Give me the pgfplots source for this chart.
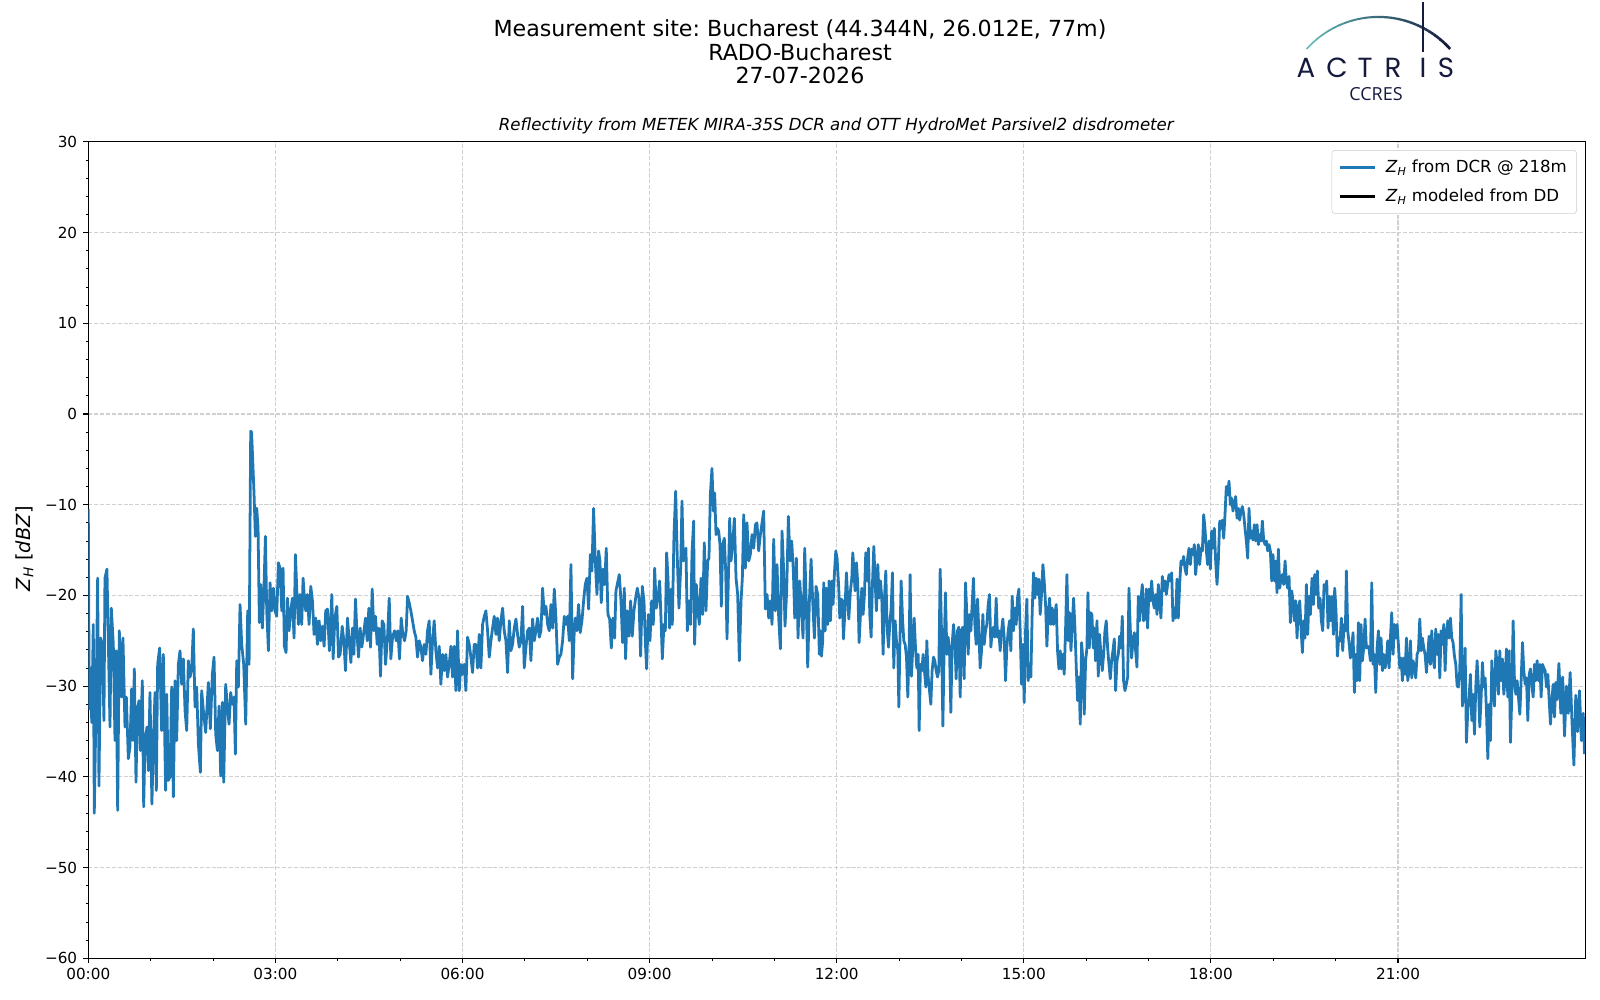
\documentclass[border=0pt]{standalone}
\usepackage{fontspec}
\setmainfont{DejaVu Sans}
\newfontfamily\logofont{Poppins}
\newfontfamily\ccresfont{Open Sans}
\usepackage{pgfplots}
\pgfplotsset{compat=1.18}
\frenchspacing
\definecolor{tabblue}{HTML}{1F77B4}
\definecolor{navy}{HTML}{151A3E}
\definecolor{teal2}{HTML}{62BDB8}
\definecolor{gridc}{HTML}{D0D0D0}
\definecolor{legc}{HTML}{CCCCCC}
\begin{document}
\begin{tikzpicture}[x=0.01in,y=0.01in]
\begin{axis}[
  scale only axis, width=14.96in, height=8.16in,
  xmin=0, xmax=24, ymin=-60, ymax=30,
  xtick={0,3,...,21},
  xticklabels={00:00,03:00,06:00,09:00,12:00,15:00,18:00,21:00},
  minor x tick num=2,
  ytick={-60,-50,...,30},
  yticklabels={−60,−50,−40,−30,−20,−10,0,10,20,30},
  minor y tick num=4,
  tick align=outside, xtick pos=bottom, ytick pos=left,
  major tick length=3.5pt, minor tick length=2pt,
  every major tick/.style={line width=0.8pt, black},
  every minor tick/.style={line width=0.6pt, black},
  axis line style={line width=0.8pt, black},
  tick label style={font=\fontsize{11}{13}\selectfont},
  yticklabel style={xshift=-1pt},
  xmajorgrids, ymajorgrids,
  major grid style={gridc, line width=0.8pt, dash pattern=on 2.96pt off 1.28pt},
  legend style={at={(rel axis cs:1,1)}, anchor=north east, xshift=-6pt, yshift=-6pt,
    draw=legc, rounded corners=2pt, fill=white, font=\fontsize{12}{14}\selectfont,
    inner xsep=5pt, inner ysep=5pt, row sep=6.3pt, column sep=5pt},
  legend cell align=left,
  legend image code/.code={\draw[#1] (0pt,0pt) -- (25pt,0pt);},
]
\addplot[tabblue, line width=2pt, line join=round] coordinates {
(0,-10.5) (0.015,-32.5) (0.035,-28) (0.055,-34)
(0.080,-23.2) (0.096,-44.0) (0.123,-32.7) (0.150,-18.1) (0.171,-41.0) (0.198,-24.7) (0.225,-25.4) (0.251,-33.8)
(0.267,-18.1) (0.299,-17.1) (0.321,-25.0) (0.348,-34.5) (0.369,-21.4) (0.401,-25.4) (0.428,-36.0) (0.444,-26.1)
(0.471,-43.7) (0.497,-23.9) (0.535,-31.2) (0.556,-24.7) (0.588,-34.5) (0.610,-31.2) (0.642,-38.0) (0.668,-36.7)
(0.695,-30.3) (0.717,-36.0) (0.738,-28.1) (0.765,-40.6) (0.786,-32.7) (0.813,-31.6) (0.834,-37.1) (0.866,-29.4)
(0.888,-43.3) (0.909,-36.2) (0.941,-34.5) (0.963,-39.3) (0.989,-30.7) (1.020,-43.0) (1.043,-36.4) (1.070,-30.7)
(1.091,-41.5) (1.112,-27.6) (1.144,-25.8) (1.176,-34.9) (1.203,-26.5) (1.240,-41.5) (1.257,-30.9) (1.283,-40.4)
(1.310,-40.0) (1.337,-30.1) (1.364,-42.2) (1.390,-29.4) (1.417,-36.0) (1.444,-27.6) (1.471,-26.1) (1.497,-29.8)
(1.524,-27.0) (1.551,-32.7) (1.578,-34.9) (1.604,-27.2) (1.631,-29.0) (1.658,-28.1) (1.684,-23.7) (1.711,-32.3)
(1.738,-30.1) (1.765,-36.4) (1.797,-39.5) (1.818,-30.5) (1.845,-32.7) (1.882,-35.1) (1.925,-29.6) (1.957,-34.7)
(1.989,-28.7) (2.016,-26.8) (2.043,-35.3) (2.070,-37.1) (2.096,-32.2) (2.123,-39.9) (2.150,-31.8) (2.171,-40.6)
(2.203,-29.8) (2.235,-32.7) (2.257,-34.2) (2.283,-30.7) (2.310,-32.0) (2.337,-31.2) (2.358,-37.5) (2.380,-27.2)
(2.406,-30.1) (2.433,-21.0) (2.460,-25.4) (2.492,-27.6) (2.524,-34.2) (2.556,-21.7) (2.578,-27.6) (2.604,-1.9)
(2.618,-2.0) (2.636,-5.0) (2.658,-8.9) (2.679,-13.5) (2.701,-10.4) (2.722,-12.6) (2.743,-23.0) (2.765,-18.8)
(2.791,-23.6) (2.818,-18.8) (2.840,-13.5) (2.861,-21.7) (2.888,-26.1) (2.914,-18.6) (2.941,-21.7) (2.968,-19.2)
(2.995,-21.7) (3.021,-22.3) (3.048,-16.4) (3.075,-17.0) (3.102,-21.7) (3.123,-17.0) (3.144,-25.6) (3.171,-26.3)
(3.193,-20.3) (3.219,-23.9) (3.246,-21.7) (3.273,-20.3) (3.299,-24.7) (3.321,-15.5) (3.348,-20.3) (3.369,-23.2)
(3.396,-19.9) (3.422,-23.2) (3.444,-18.1) (3.465,-20.3) (3.487,-21.7) (3.513,-19.9) (3.540,-23.2) (3.567,-19.0)
(3.594,-20.6) (3.620,-24.3) (3.647,-22.5) (3.674,-25.4) (3.701,-22.8) (3.727,-25.0) (3.754,-23.4) (3.781,-25.6)
(3.807,-21.7) (3.834,-21.5) (3.866,-26.1)
(3.905,-19.9) (3.926,-27.0) (3.953,-22.5) (3.985,-21.2) (4.012,-26.8) (4.038,-26.5) (4.071,-23.4) (4.097,-25.0)
(4.124,-28.3) (4.156,-22.5) (4.183,-25.0) (4.210,-27.4) (4.236,-23.6) (4.258,-26.5) (4.284,-20.4) (4.306,-23.9)
(4.333,-26.8) (4.359,-23.6) (4.386,-25.7) (4.413,-24.3) (4.445,-22.5) (4.472,-25.0) (4.498,-21.4) (4.525,-25.7)
(4.552,-19.3) (4.579,-23.9) (4.605,-22.3) (4.632,-25.4) (4.659,-23.6) (4.685,-28.9) (4.712,-22.8) (4.739,-23.2)
(4.766,-27.6) (4.798,-24.6) (4.825,-20.3) (4.851,-27.0) (4.878,-24.6) (4.910,-23.9) (4.937,-25.0) (4.964,-23.9)
(4.990,-27.0) (5.017,-22.5) (5.044,-24.3) (5.071,-25.0) (5.097,-23.9) (5.119,-20.1) (5.145,-20.8) (5.172,-21.7)
(5.199,-22.8) (5.226,-23.9) (5.252,-24.6) (5.279,-26.8) (5.306,-25.0) (5.333,-25.7) (5.359,-27.2) (5.386,-25.4)
(5.413,-26.5) (5.439,-23.9) (5.466,-22.8) (5.493,-28.7) (5.520,-25.0) (5.546,-22.8) (5.573,-26.1) (5.600,-28.0)
(5.627,-25.6) (5.653,-29.8) (5.680,-26.5) (5.707,-28.3) (5.734,-26.5) (5.760,-29.0) (5.787,-27.6) (5.814,-25.6)
(5.841,-29.0) (5.867,-25.6) (5.894,-30.5) (5.921,-23.9) (5.948,-30.5) (5.974,-27.6) (6.001,-28.7) (6.028,-27.6)
(6.054,-30.5) (6.081,-24.6) (6.108,-25.4) (6.135,-26.8) (6.161,-28.5) (6.188,-25.4) (6.215,-25.4) (6.242,-28.0)
(6.268,-24.3) (6.295,-28.0) (6.322,-23.2) (6.349,-22.3) (6.375,-21.7) (6.402,-23.9) (6.429,-26.8) (6.456,-25.0)
(6.482,-23.6) (6.509,-22.3) (6.536,-24.3) (6.562,-22.5) (6.589,-25.0) (6.616,-22.8) (6.643,-21.4) (6.669,-23.9)
(6.696,-25.0) (6.723,-28.5) (6.750,-22.8) (6.776,-26.1) (6.803,-25.4) (6.830,-23.6) (6.857,-22.6) (6.883,-24.3)
(6.910,-25.7) (6.937,-25.0) (6.964,-21.2) (6.990,-28.0) (7.017,-25.7) (7.044,-23.9) (7.071,-23.6) (7.097,-27.2)
(7.124,-22.6) (7.151,-25.0) (7.177,-23.9) (7.204,-22.5) (7.231,-24.6) (7.258,-23.9) (7.284,-19.2) (7.311,-22.1)
(7.338,-21.2) (7.365,-23.2) (7.391,-23.9) (7.418,-21.0) (7.445,-23.6) (7.472,-19.3) (7.498,-22.5) (7.525,-27.6)
(7.552,-26.8) (7.578,-26.5) (7.605,-25.0) (7.632,-22.3) (7.659,-23.2) (7.685,-22.3) (7.712,-25.0) (7.739,-16.6)
(7.766,-29.2) (7.792,-23.9)
(7.808,-22.5) (7.835,-23.9) (7.861,-21.0) (7.888,-24.1) (7.915,-22.8) (7.942,-20.6) (7.968,-18.8) (7.995,-18.1)
(8.022,-21.5) (8.049,-15.5) (8.075,-17.3) (8.102,-10.4) (8.129,-16.2) (8.156,-19.9) (8.182,-15.1) (8.204,-16.2)
(8.225,-20.8) (8.252,-17.1) (8.279,-18.8) (8.305,-14.8) (8.332,-22.1) (8.359,-22.6) (8.386,-25.8) (8.412,-22.5)
(8.439,-24.7) (8.460,-19.5) (8.487,-18.6) (8.514,-17.7) (8.541,-20.6) (8.567,-25.2) (8.594,-19.2) (8.615,-27.0)
(8.642,-21.7) (8.669,-24.5) (8.696,-20.6) (8.722,-24.5) (8.749,-21.7) (8.776,-20.3) (8.803,-19.2) (8.829,-20.3)
(8.856,-26.7) (8.883,-19.0) (8.910,-20.6) (8.931,-25.0) (8.952,-28.1) (8.979,-22.1) (9.006,-25.0) (9.033,-20.6)
(9.059,-23.2) (9.081,-17.0) (9.107,-21.4) (9.134,-20.3) (9.161,-18.4) (9.188,-23.6) (9.204,-27.0) (9.230,-23.2)
(9.252,-23.9) (9.273,-15.3) (9.295,-18.1) (9.321,-23.6) (9.348,-19.3) (9.364,-23.2) (9.391,-13.3) (9.418,-8.5)
(9.444,-15.9) (9.471,-21.4) (9.498,-17.0) (9.519,-9.6) (9.541,-16.2) (9.562,-15.1) (9.583,-14.8) (9.605,-23.9)
(9.631,-20.6) (9.658,-23.2) (9.680,-15.3) (9.706,-11.8) (9.722,-25.4) (9.749,-18.8) (9.776,-21.7) (9.797,-23.2)
(9.824,-18.1) (9.851,-22.1) (9.877,-14.2) (9.904,-21.7) (9.931,-16.2) (9.952,-15.9) (9.974,-8.9) (10.000,-6.0)
(10.022,-10.7) (10.043,-8.7) (10.065,-13.3) (10.086,-12.6) (10.107,-12.9) (10.129,-14.4) (10.150,-21.2) (10.172,-14.4)
(10.198,-13.7) (10.220,-17.3) (10.241,-24.8) (10.263,-18.1) (10.284,-11.5) (10.305,-16.2) (10.332,-14.4) (10.359,-11.5)
(10.386,-18.1) (10.412,-19.9) (10.439,-27.2) (10.466,-20.6) (10.487,-18.1) (10.509,-11.1) (10.535,-17.0) (10.562,-12.0)
(10.589,-16.2) (10.615,-15.5) (10.642,-13.3) (10.669,-14.8) (10.696,-12.2) (10.722,-12.0) (10.749,-15.1) (10.776,-13.3)
(10.803,-12.0) (10.829,-10.7) (10.856,-21.5) (10.883,-19.9) (10.910,-22.5) (10.936,-20.6) (10.963,-23.2) (10.990,-13.8)
(11.016,-21.7) (11.043,-16.6) (11.070,-22.5) (11.097,-25.9) (11.123,-12.9) (11.150,-17.3) (11.171,-23.4) (11.198,-19.5)
(11.225,-11.3) (11.252,-16.2) (11.278,-14.0) (11.305,-17.3) (11.327,-22.5) (11.353,-15.9) (11.380,-24.7) (11.407,-18.4)
(11.434,-21.4) (11.460,-24.7) (11.487,-14.8) (11.514,-21.4) (11.535,-27.9) (11.562,-20.6) (11.589,-16.0) (11.615,-20.6)
(11.642,-24.7) (11.669,-19.0) (11.696,-19.9) (11.722,-26.5)
(11.739,-23.9) (11.755,-26.7) (11.776,-25.0) (11.792,-18.6) (11.814,-23.9) (11.835,-19.2) (11.857,-23.2) (11.878,-18.4)
(11.899,-22.8) (11.926,-18.4) (11.942,-21.0) (11.964,-17.5) (11.985,-15.1) (12.006,-15.9) (12.033,-19.2) (12.049,-22.5)
(12.071,-20.4) (12.092,-20.6) (12.108,-24.8) (12.129,-22.1) (12.156,-17.5) (12.177,-20.3) (12.194,-22.6) (12.220,-19.5)
(12.242,-18.1) (12.258,-15.3) (12.279,-17.7) (12.295,-19.5) (12.317,-16.4) (12.338,-18.8) (12.359,-25.2) (12.381,-22.1)
(12.402,-19.2) (12.423,-22.1) (12.445,-19.9) (12.466,-15.3) (12.488,-18.4) (12.509,-14.8) (12.530,-22.1) (12.552,-24.6)
(12.573,-18.8) (12.595,-14.6) (12.616,-18.4) (12.637,-21.7) (12.659,-16.6) (12.680,-20.3) (12.702,-18.4) (12.723,-20.3)
(12.744,-26.5) (12.766,-20.3) (12.787,-17.3) (12.809,-23.6) (12.830,-25.7) (12.851,-23.2) (12.873,-21.4) (12.894,-17.5)
(12.915,-28.0) (12.937,-22.8) (12.958,-25.0) (12.980,-26.1) (12.996,-32.3) (13.012,-25.7) (13.033,-18.4) (13.055,-22.5)
(13.076,-25.0) (13.097,-25.4) (13.119,-26.8) (13.140,-31.2) (13.161,-25.7) (13.177,-17.7) (13.199,-28.9) (13.220,-25.7)
(13.242,-22.5) (13.263,-25.7) (13.284,-28.0) (13.306,-26.5) (13.322,-34.9) (13.343,-27.6) (13.365,-28.3) (13.386,-26.5)
(13.407,-28.3) (13.429,-30.1) (13.445,-25.0) (13.466,-29.0) (13.488,-30.5) (13.509,-32.0) (13.530,-28.3) (13.552,-26.8)
(13.573,-27.2) (13.595,-28.3) (13.616,-29.0) (13.637,-28.3) (13.659,-17.1) (13.680,-23.9) (13.702,-34.4) (13.723,-25.7)
(13.744,-19.7) (13.766,-26.5) (13.787,-24.6) (13.809,-26.1) (13.830,-32.9) (13.851,-25.4) (13.873,-23.2) (13.894,-25.0)
(13.915,-29.2) (13.937,-23.9) (13.958,-23.5) (13.980,-31.2) (14.001,-23.9) (14.022,-23.5) (14.044,-29.2) (14.065,-18.6)
(14.087,-22.1) (14.108,-26.5) (14.129,-22.1) (14.151,-23.9) (14.172,-21.0) (14.193,-18.1) (14.215,-23.2) (14.236,-25.4)
(14.258,-20.4) (14.279,-23.9) (14.300,-28.0) (14.322,-26.1) (14.343,-22.1) (14.365,-25.4) (14.386,-23.9) (14.407,-23.2)
(14.429,-21.0) (14.450,-19.9) (14.472,-25.7) (14.493,-23.9) (14.514,-23.5) (14.536,-24.6) (14.557,-20.3) (14.578,-24.6)
(14.600,-23.9) (14.621,-26.1) (14.643,-23.9) (14.664,-22.6) (14.685,-24.6) (14.707,-29.4) (14.728,-25.7) (14.750,-23.9)
(14.771,-22.8) (14.792,-26.1) (14.814,-20.1) (14.835,-23.9) (14.856,-21.4) (14.878,-23.2) (14.899,-20.3) (14.921,-19.3)
(14.942,-23.9) (14.963,-29.8) (14.985,-25.4) (15.006,-31.8) (15.028,-23.9) (15.049,-20.4) (15.070,-29.4) (15.092,-27.6)
(15.113,-29.0) (15.135,-21.7) (15.156,-17.5) (15.177,-20.3) (15.199,-18.1) (15.220,-19.9) (15.242,-18.2) (15.263,-22.1)
(15.284,-19.9) (15.306,-16.6) (15.327,-18.4) (15.349,-21.0) (15.370,-25.6) (15.391,-22.1) (15.413,-20.3) (15.434,-23.2)
(15.456,-21.4) (15.477,-23.2) (15.498,-22.1) (15.520,-21.0) (15.541,-26.1) (15.563,-28.1) (15.584,-26.1) (15.605,-28.1)
(15.627,-26.5) (15.648,-28.7)
(15.670,-23.6) (15.691,-17.7) (15.713,-25.0) (15.734,-21.9) (15.756,-26.1) (15.777,-23.2) (15.798,-20.3) (15.820,-23.6)
(15.841,-27.9) (15.863,-31.6) (15.884,-29.0) (15.905,-34.2) (15.927,-25.2) (15.948,-27.2) (15.969,-33.1) (15.991,-27.2)
(16.012,-25.8) (16.028,-19.7) (16.050,-25.8) (16.071,-21.9) (16.092,-22.1) (16.114,-25.8) (16.130,-23.6) (16.151,-27.2)
(16.173,-22.8) (16.194,-28.9) (16.215,-24.3) (16.237,-26.5) (16.258,-28.3) (16.280,-26.5) (16.301,-23.9) (16.322,-22.8)
(16.344,-25.8) (16.365,-27.6) (16.387,-29.2) (16.408,-27.2) (16.429,-26.1) (16.451,-24.8) (16.472,-30.5) (16.494,-27.2)
(16.515,-26.5) (16.536,-24.5) (16.558,-25.8) (16.579,-22.3) (16.600,-29.4) (16.622,-30.5) (16.643,-29.8) (16.665,-29.0)
(16.686,-19.2) (16.707,-23.6) (16.729,-26.9) (16.750,-25.0) (16.772,-24.1) (16.793,-26.1) (16.814,-27.9) (16.836,-20.1)
(16.857,-22.8) (16.879,-20.3) (16.900,-18.8) (16.921,-22.8) (16.943,-22.5) (16.964,-19.3) (16.985,-23.6) (17.007,-19.3)
(17.028,-20.6) (17.050,-18.4) (17.071,-20.6) (17.092,-21.4) (17.114,-19.9) (17.135,-22.1) (17.157,-18.8) (17.178,-20.6)
(17.199,-22.5) (17.221,-17.9) (17.242,-19.5) (17.264,-18.4) (17.285,-19.9) (17.306,-18.8) (17.328,-17.7) (17.349,-18.4)
(17.371,-17.5) (17.392,-22.8) (17.413,-21.4) (17.435,-22.5) (17.456,-18.2) (17.477,-22.5) (17.499,-18.8) (17.520,-16.2)
(17.542,-16.6) (17.563,-15.7) (17.584,-17.0) (17.606,-17.7) (17.627,-15.9) (17.649,-14.8) (17.670,-16.6) (17.691,-14.9)
(17.713,-15.5) (17.734,-14.4) (17.755,-17.7) (17.777,-15.9) (17.798,-14.4) (17.820,-16.6) (17.841,-14.8) (17.863,-15.1)
(17.884,-11.1) (17.905,-12.6) (17.927,-15.1) (17.948,-16.6) (17.969,-14.0) (17.991,-17.1) (18.012,-12.9) (18.034,-14.8)
(18.055,-12.6) (18.076,-16.2) (18.098,-18.8) (18.119,-16.2) (18.141,-11.8) (18.162,-12.6) (18.183,-11.7) (18.205,-13.7)
(18.226,-11.1) (18.247,-8.0) (18.269,-8.9) (18.290,-7.4) (18.312,-10.0) (18.333,-9.3) (18.354,-10.7) (18.376,-9.8)
(18.397,-9.1) (18.419,-11.5) (18.440,-10.4) (18.461,-11.7) (18.483,-10.7) (18.504,-10.2) (18.526,-11.1) (18.547,-12.6)
(18.568,-14.0) (18.590,-15.9) (18.611,-10.4) (18.633,-13.7) (18.654,-12.9) (18.675,-13.9) (18.697,-12.2) (18.718,-14.0)
(18.740,-12.2) (18.761,-14.4) (18.782,-13.3) (18.804,-14.0) (18.825,-11.8) (18.847,-14.0) (18.868,-14.4) (18.889,-14.0)
(18.911,-15.1) (18.932,-14.4) (18.953,-15.1) (18.975,-18.4) (18.996,-15.5) (19.018,-18.4) (19.039,-16.2) (19.060,-19.7)
(19.082,-14.9) (19.103,-19.2) (19.125,-18.1) (19.146,-17.7) (19.167,-18.8) (19.189,-16.2) (19.210,-18.4) (19.231,-19.2)
(19.253,-17.9) (19.274,-23.0) (19.296,-19.5) (19.317,-20.6) (19.338,-22.8) (19.360,-20.6) (19.381,-24.7) (19.403,-21.4)
(19.424,-20.6) (19.445,-23.6) (19.467,-26.3) (19.488,-22.8) (19.509,-24.7) (19.531,-18.8) (19.552,-24.3) (19.574,-20.1)
(19.595,-22.1)
(19.621,-18.1) (19.643,-21.0) (19.664,-17.7) (19.686,-19.9) (19.707,-17.3) (19.728,-21.4) (19.750,-20.3) (19.771,-22.8)
(19.793,-23.9) (19.814,-18.8) (19.835,-19.5) (19.857,-18.4) (19.878,-23.6) (19.899,-20.1) (19.921,-22.8) (19.942,-20.1)
(19.964,-24.3) (19.985,-19.2) (20.006,-21.7) (20.028,-26.7) (20.049,-24.7) (20.071,-25.0) (20.092,-22.5) (20.113,-26.1)
(20.135,-23.2) (20.156,-23.9) (20.172,-17.3) (20.194,-23.9) (20.215,-25.2) (20.236,-26.9) (20.258,-25.8) (20.279,-24.1)
(20.301,-30.7) (20.322,-26.5) (20.343,-29.4) (20.365,-23.0) (20.386,-29.4) (20.407,-23.2) (20.429,-27.2) (20.450,-25.8)
(20.472,-22.6) (20.493,-25.8) (20.514,-25.6) (20.536,-25.9) (20.557,-27.2) (20.579,-18.6) (20.600,-27.6) (20.621,-26.5)
(20.643,-30.7) (20.664,-25.8) (20.686,-23.9) (20.707,-27.6) (20.728,-24.7) (20.750,-28.3) (20.771,-26.5) (20.793,-28.0)
(20.814,-27.2) (20.835,-25.0) (20.857,-28.0) (20.878,-24.7) (20.899,-21.9) (20.921,-26.5) (20.942,-23.2) (20.964,-24.7)
(20.985,-23.2) (21.006,-25.4) (21.028,-28.0) (21.049,-26.9) (21.071,-29.4) (21.092,-26.9) (21.113,-28.7) (21.135,-24.7)
(21.156,-29.4) (21.178,-28.3) (21.199,-25.0) (21.220,-29.1) (21.242,-27.2) (21.263,-28.0) (21.284,-29.1) (21.306,-26.5)
(21.327,-26.1) (21.349,-22.6) (21.370,-26.1) (21.391,-24.7) (21.413,-25.8) (21.434,-26.5) (21.456,-28.5) (21.477,-26.5)
(21.498,-24.5) (21.520,-27.6) (21.541,-23.9) (21.563,-26.9) (21.584,-28.0) (21.605,-23.7) (21.627,-26.5) (21.648,-24.3)
(21.670,-29.1) (21.691,-23.9) (21.712,-25.4) (21.734,-23.2) (21.755,-28.3) (21.776,-24.7) (21.798,-22.8) (21.819,-24.7)
(21.840,-22.5) (21.862,-24.7) (21.883,-25.2) (21.905,-26.7) (21.926,-27.6) (21.948,-30.0) (21.969,-30.1) (21.990,-28.3)
(22.012,-19.9) (22.033,-32.2) (22.055,-30.1) (22.076,-25.8) (22.097,-36.2) (22.119,-32.7) (22.140,-31.2) (22.161,-28.7)
(22.183,-33.8) (22.204,-30.9) (22.226,-35.3) (22.247,-30.1) (22.268,-27.2) (22.290,-30.1) (22.311,-34.5) (22.333,-31.2)
(22.354,-27.4) (22.375,-30.1) (22.397,-29.1) (22.418,-32.7) (22.440,-38.0) (22.461,-32.0) (22.482,-36.0) (22.504,-27.2)
(22.525,-30.1) (22.547,-32.2) (22.568,-26.1) (22.589,-27.6) (22.611,-30.9) (22.632,-26.1) (22.653,-29.4) (22.675,-27.0)
(22.696,-30.9) (22.718,-29.1) (22.739,-25.9) (22.760,-31.2) (22.782,-26.1) (22.803,-36.2) (22.824,-31.2) (22.846,-22.8)
(22.867,-29.4) (22.889,-30.9) (22.910,-29.4) (22.931,-31.2) (22.953,-33.1) (22.974,-29.4) (22.996,-25.2) (23.017,-28.3)
(23.039,-29.8) (23.060,-29.1) (23.081,-33.8) (23.103,-28.7) (23.124,-28.1) (23.145,-29.8) (23.167,-31.2) (23.188,-27.6)
(23.209,-29.4) (23.231,-27.2) (23.252,-29.4) (23.274,-27.6) (23.295,-31.2) (23.316,-27.6) (23.338,-28.0) (23.359,-28.3)
(23.381,-30.1) (23.402,-28.7) (23.424,-31.6) (23.445,-34.2) (23.466,-31.6) (23.488,-29.8) (23.509,-33.4) (23.530,-29.6)
(23.550,-31.5) (23.580,-27.5) (23.610,-33.0) (23.640,-29.0) (23.670,-35.5) (23.700,-30.0) (23.730,-33.0) (23.760,-28.5)
(23.790,-34.0) (23.820,-38.7) (23.850,-31.0) (23.880,-35.0) (23.910,-30.5) (23.940,-36.0) (23.970,-33.0) (23.990,-37.5)
};
\addlegendentry{\textit{Z}\textsubscript{\textit{H}} from DCR @ 218m}
\addlegendimage{black, line width=2pt}
\addlegendentry{\textit{Z}\textsubscript{\textit{H}} modeled from DD}
\end{axis}
\begin{scope}[shift={(-88.3,-41.7)}]
\path[use as bounding box] (0,0) rectangle (1600,1000);
% titles
\node[font=\fontsize{16}{19}\selectfont] at (800,970.5) {Measurement site: Bucharest (44.344N, 26.012E, 77m)};
\node[font=\fontsize{16}{19}\selectfont] at (800,948) {RADO-Bucharest};
\node[font=\fontsize{16}{19}\selectfont] at (800,924.5) {27-07-2026};
\node[font=\fontsize{12}{14}\selectfont\itshape] at (836.3,874) {Reflectivity from METEK MIRA-35S DCR and OTT HydroMet Parsivel2 disdrometer};
\node[rotate=90, font=\fontsize{14}{17}\selectfont] at (24.5,451.2) {\textit{Z}\textsubscript{\textit{H}} [\textit{dBZ}]};
% logo
\foreach \i in {0,...,23} {
  \pgfmathsetmacro\a{138.2-\i*4}
  \pgfmathsetmacro\b{\a-4.3}
  \pgfmathsetmacro\p{100*\i/23}
  \pgfmathsetmacro\w{1.1+0.9*\i/23}
  \draw[line width=\w pt, color=navy!\p!teal2, line cap=butt] ([shift={(\a:0.963in)}]1378.4,886.7) arc[start angle=\a, end angle=\b, radius=0.963in];
}
\draw[navy, line width=1.4pt] (1423.3,948) -- (1423.3,998);
\foreach \c/\xx in {A/1306,C/1337,T/1365,R/1393,I/1423,S/1446} {
  \node[anchor=base, inner sep=0pt, text=navy, font=\logofont\fontsize{20}{22}\selectfont] at (\xx,922) {\c};
}
\node[anchor=base, inner sep=0pt, text=navy, font=\ccresfont\fontsize{13}{15}\selectfont] at (1376,899.5) {CCRES};
\end{scope}
\end{tikzpicture}
\end{document}
